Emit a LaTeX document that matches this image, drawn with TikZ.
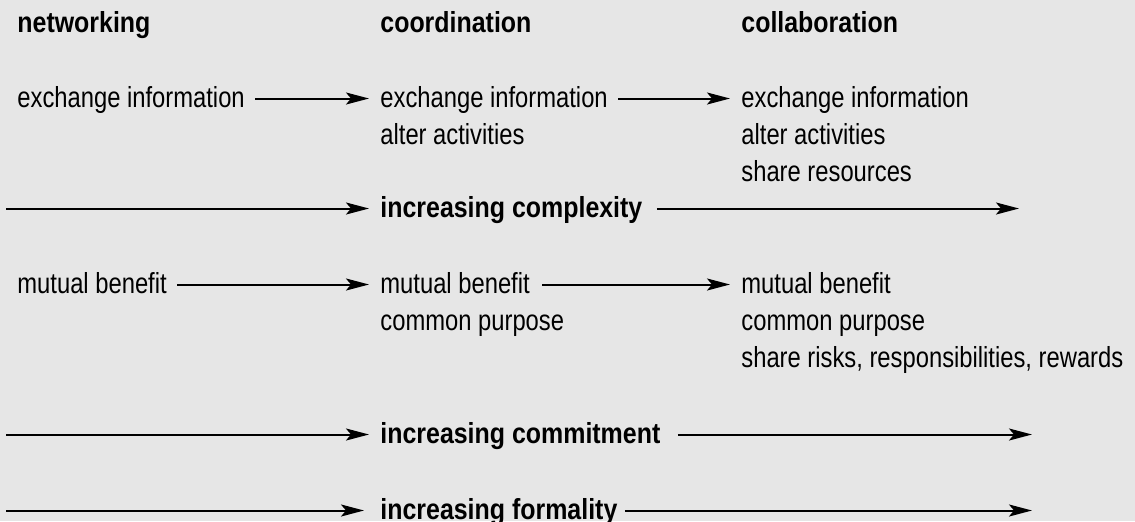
\documentclass[tikz,border=0pt]{standalone}
\usepackage{fontspec}
\setmainfont{Liberation Sans}[FakeStretch=0.82]
\newfontfamily\headfont{Liberation Sans}[FakeStretch=0.86]
\usetikzlibrary{positioning,arrows.meta}
\definecolor{panelgray}{HTML}{E6E6E6}
\tikzset{
  item/.style={inner sep=0pt, anchor=base west, text height=11pt, text depth=2.5pt, font=\fontsize{14.5}{18.5}\selectfont},
  heading/.style={item, font=\headfont\bfseries\fontsize{14.5}{18.5}\selectfont},
  flow/.style={-{Stealth[length=11.5pt,width=6pt,inset=2.5pt]}, line width=1pt, shorten <=5pt, shorten >=5.5pt},
}

\begin{document}
\begin{tikzpicture}[x=0.5pt,y=0.5pt]
\fill[panelgray] (0,0) rectangle (1135,-521);
\useasboundingbox (0,0) rectangle (1135,-521);
%column headings
\node[heading] (hNet) at (17,-32) {networking};
\node[heading] (hCo) at (380,-32) {coordination};
\node[heading] (hCol) at (741,-32) {collaboration};
%first block
\node[item] (exNet) at (17,-107) {exchange information};
\node[item] (exCo) at (380,-107) {exchange information};
\node[item] (altCo) at ([yshift=-18.5pt]exCo.base west) {alter activities};
\node[item] (exCol) at (741,-107) {exchange information};
\node[item] (altCol) at ([yshift=-18.5pt]exCol.base west) {alter activities};
\node[item] (shareCol) at ([yshift=-18.5pt]altCol.base west) {share resources};
\node[heading] (cxLabel) at (380,-217) {increasing complexity};
%second block
\node[item] (mbNet) at (17,-293) {mutual benefit};
\node[item] (mbCo) at (380,-293) {mutual benefit};
\node[item] (cpCo) at ([yshift=-18.5pt]mbCo.base west) {common purpose};
\node[item] (mbCol) at (741,-293) {mutual benefit};
\node[item] (cpCol) at ([yshift=-18.5pt]mbCol.base west) {common purpose};
\node[item] (riskCol) at ([yshift=-18.5pt]cpCol.base west) {share risks, responsibilities, rewards};
\node[heading] (cmLabel) at (380,-443) {increasing commitment};
\node[heading] (fmLabel) at (380,-519) {increasing formality};
%free ends of the long arrows
\coordinate (cxTail) at (6,-208.5);
\coordinate (cxHead) at (1019,-208.5);
\coordinate (cmTail) at (6,-434.5);
\coordinate (cmHead) at (1032,-434.5);
\coordinate (fmTail) at (6,-510.5);
\coordinate (fmHead) at (1032,-510.5);
%arrows
\draw[flow] (exNet.east) -- (exCo.west);
\draw[flow] (exCo.east) -- (exCol.west);
\draw[flow] (mbNet.east) -- (mbCo.west);
\draw[flow, shorten <=6pt] (mbCo.east) -- (mbCol.west);
\draw[flow, shorten <=0pt] (cxTail) -- (cxLabel.west);
\draw[flow, shorten <=7pt, shorten >=0pt] (cxLabel.east) -- (cxHead);
\draw[flow, shorten <=0pt] (cmTail) -- (cmLabel.west);
\draw[flow, shorten <=8.5pt, shorten >=0pt] (cmLabel.east) -- (cmHead);
\draw[flow, shorten <=0pt, shorten >=8pt] (fmTail) -- (fmLabel.west);
\draw[flow, shorten <=3.5pt, shorten >=0pt] (fmLabel.east) -- (fmHead);
\end{tikzpicture}
\end{document}
